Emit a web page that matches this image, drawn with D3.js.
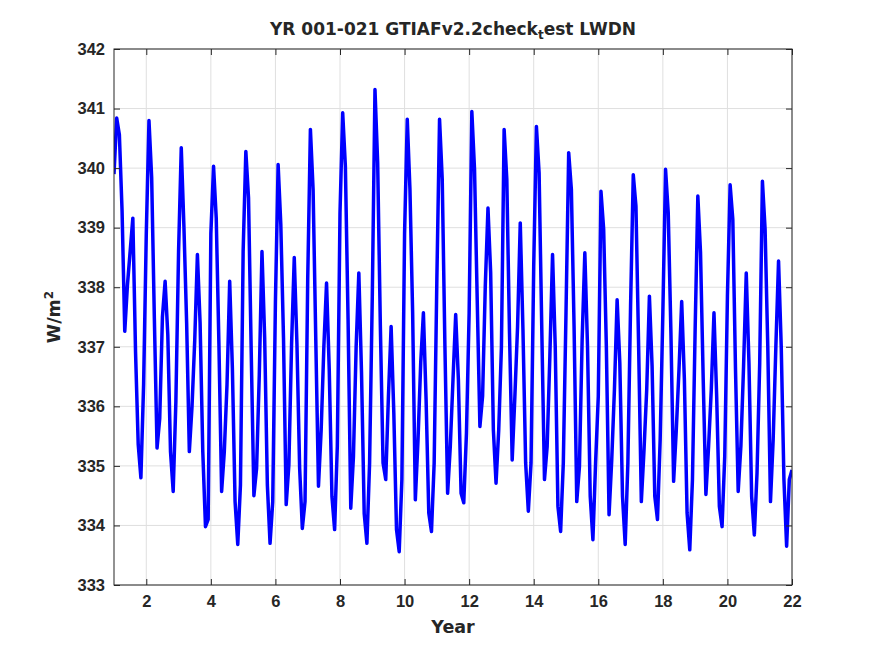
<!DOCTYPE html>
<html>
<head>
<meta charset="utf-8">
<script src="https://cdn.jsdelivr.net/npm/d3@7"></script>
<style>
  html, body { margin: 0; padding: 0; background: #fff; }
  svg { display: block; font-family: "DejaVu Sans", sans-serif; }
  .grid line { stroke: #dfdfdf; stroke-width: 1; }
  .axis path, .axis line { stroke: #262626; }
  .axis text { fill: #262626; font-weight: bold; font-size: 16.5px; }
  .label { fill: #262626; font-weight: bold; }
  .line { fill: none; stroke: #0000ff; stroke-width: 3.5; stroke-linejoin: round; }
</style>
</head>
<body>
<svg id="chart" width="875" height="656"></svg>
<script>
// monthly LWDN, W/m^2, one row per model year (001..021) + end value
const lwdn = [
  339.90, 340.84, 340.56, 339.28, 337.26, 338.04, 338.60, 339.16, 336.92, 335.36, 334.80, 336.36,
  338.90, 340.80, 339.84, 337.48, 335.30, 335.80, 337.50, 338.10, 337.20, 335.24, 334.57, 336.08,
  338.60, 340.34, 339.00, 337.40, 335.24, 336.00, 337.10, 338.55, 337.40, 335.24, 333.98, 334.10,
  338.90, 340.03, 339.16, 337.04, 334.57, 335.24, 336.36, 338.10, 336.64, 334.40, 333.68, 334.68,
  338.60, 340.28, 339.50, 336.92, 334.50, 334.96, 336.53, 338.60, 337.15, 334.68, 333.70, 334.40,
  337.76, 340.06, 339.05, 337.15, 334.35, 335.02, 337.04, 338.50, 337.04, 334.96, 333.95, 334.40,
  338.13, 340.65, 339.64, 337.12, 334.66, 335.60, 337.00, 338.07, 336.62, 334.49, 333.93, 335.33,
  339.25, 340.93, 340.03, 337.46, 334.29, 335.16, 337.00, 338.24, 336.56, 334.20, 333.70, 335.05,
  337.85, 341.32, 340.09, 337.34, 335.05, 334.77, 336.17, 337.34, 335.89, 333.93, 333.56, 334.77,
  338.90, 340.82, 339.64, 337.57, 334.43, 335.44, 336.73, 337.57, 336.11, 334.21, 333.90, 335.05,
  338.13, 340.82, 339.81, 337.00, 334.54, 335.33, 336.45, 337.54, 336.45, 334.54, 334.38, 335.55,
  337.57, 340.95, 339.98, 337.79, 335.66, 336.17, 338.02, 339.33, 338.24, 335.61, 334.71, 335.61,
  337.00, 340.65, 339.81, 337.23, 335.10, 336.17, 337.34, 339.08, 337.29, 335.05, 334.24, 335.05,
  338.35, 340.70, 339.92, 337.29, 334.77, 335.33, 336.84, 338.55, 337.00, 334.32, 333.90, 335.05,
  337.57, 340.26, 339.64, 337.34, 334.40, 334.99, 337.12, 338.58, 337.00, 334.49, 333.76, 335.05,
  336.17, 339.61, 338.97, 337.00, 334.18, 335.10, 336.28, 337.79, 336.73, 334.49, 333.68, 335.05,
  337.68, 339.89, 339.36, 337.00, 334.40, 335.27, 336.28, 337.85, 336.67, 334.49, 334.10, 335.44,
  337.57, 339.98, 339.25, 337.23, 334.74, 335.61, 336.62, 337.76, 336.45, 334.21, 333.59, 334.77,
  337.29, 339.53, 338.58, 336.45, 334.52, 335.33, 336.28, 337.57, 336.17, 334.32, 333.98, 335.16,
  337.85, 339.72, 339.14, 336.62, 334.57, 335.33, 336.67, 338.24, 336.73, 334.49, 333.84, 334.88,
  336.73, 339.78, 338.97, 337.00, 334.40, 335.44, 337.00, 338.44, 337.00, 334.77, 333.65, 334.77,
  334.93
];
const firstYear = 1;
const samplesPerYear = 12;
const xTicks = [2, 4, 6, 8, 10, 12, 14, 16, 18, 20, 22];
const yTicks = [333, 334, 335, 336, 337, 338, 339, 340, 341, 342];
const xDomain = [1, 22];
const yDomain = [333, 342];

const margin = {left: 114, right: 83, top: 49, bottom: 71};
const width = 875, height = 656;
const innerW = width - margin.left - margin.right;
const innerH = height - margin.top - margin.bottom;

const svg = d3.select('#chart');

const xScale = d3.scaleLinear().domain(xDomain).range([0, innerW]);
const yScale = d3.scaleLinear().domain(yDomain).range([innerH, 0]);

const g = svg.append('g')
    .attr('transform', `translate(${margin.left},${margin.top})`);

// grid
g.append('g').attr('class', 'grid')
    .selectAll('line.gx')
    .data(xTicks)
    .enter().append('line')
    .attr('x1', d => xScale(d)).attr('x2', d => xScale(d))
    .attr('y1', 0).attr('y2', innerH);

g.append('g').attr('class', 'grid')
    .selectAll('line.gy')
    .data(yTicks)
    .enter().append('line')
    .attr('x1', 0).attr('x2', innerW)
    .attr('y1', d => yScale(d)).attr('y2', d => yScale(d));

// series
g.append('clipPath').attr('id', 'clip')
    .append('rect').attr('width', innerW).attr('height', innerH);

const line = d3.line()
    .x((d, i) => xScale(firstYear + i / samplesPerYear))
    .y(d => yScale(d));

g.append('path')
    .attr('class', 'line')
    .attr('clip-path', 'url(#clip)')
    .attr('d', line(lwdn));

// axes, ticks inside like matlab
const tickLen = 6;
g.append('g').attr('class', 'axis')
    .attr('transform', `translate(0,${innerH})`)
    .call(d3.axisBottom(xScale).tickValues(xTicks).tickSizeInner(-tickLen).tickSizeOuter(0).tickPadding(10))
    .call(a => a.select('.domain').remove());

g.append('g').attr('class', 'axis')
    .call(d3.axisLeft(yScale).tickValues(yTicks).tickSizeInner(-tickLen).tickSizeOuter(0).tickPadding(9))
    .call(a => a.select('.domain').remove());

g.append('g').attr('class', 'axis')
    .call(d3.axisTop(xScale).tickValues(xTicks).tickSizeInner(-tickLen).tickSizeOuter(0).tickFormat(''))
    .call(a => a.select('.domain').remove());

g.append('g').attr('class', 'axis')
    .attr('transform', `translate(${innerW},0)`)
    .call(d3.axisRight(yScale).tickValues(yTicks).tickSizeInner(-tickLen).tickSizeOuter(0).tickFormat(''))
    .call(a => a.select('.domain').remove());

g.append('rect')
    .attr('width', innerW).attr('height', innerH)
    .attr('fill', 'none').attr('stroke', '#262626').attr('stroke-width', 1);

// title with tex-style subscript
const title = svg.append('text')
    .attr('class', 'label')
    .attr('x', margin.left + innerW / 2)
    .attr('y', 35)
    .attr('text-anchor', 'middle')
    .style('font-size', '17px');
title.append('tspan').text('YR 001-021 GTIAFv2.2check');
title.append('tspan').attr('dy', 4).style('font-size', '12px').text('t');
title.append('tspan').attr('dy', -4).text('est LWDN');

svg.append('text')
    .attr('class', 'label')
    .attr('x', margin.left + innerW / 2)
    .attr('y', 633)
    .attr('text-anchor', 'middle')
    .style('font-size', '17.5px')
    .text('Year');

const ylab = svg.append('text')
    .attr('class', 'label')
    .attr('transform', `translate(60,${margin.top + innerH / 2}) rotate(-90)`)
    .attr('text-anchor', 'middle')
    .style('font-size', '17.5px');
ylab.append('tspan').text('W/m');
ylab.append('tspan').attr('dy', -7).style('font-size', '12px').text('2');
</script>
</body>
</html>
